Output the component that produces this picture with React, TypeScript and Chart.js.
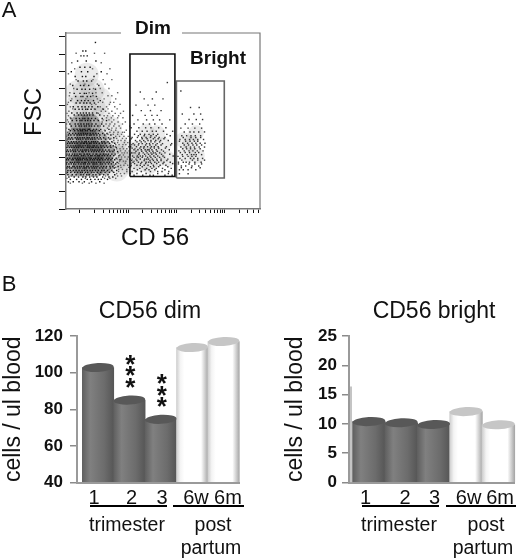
import React, { useEffect, useRef } from "react";
import { Chart, registerables } from "chart.js";

Chart.register(...registerables);

const FONT = "'Liberation Sans', Arial, sans-serif";

// Panel B values
const barCategories = ["1", "2", "3", "6w", "6m"];
const dimValues = [102.8, 85, 74.5, 113.7, 117];
const brightValues = [10.4, 10.2, 9.9, 12.1, 9.85];
const dimTickSpots = [0.87, 2.07, 3.04, 4.12, 5.14];
const brightTickSpots = [0.9, 2.12, 3.03, 4.08, 5.05];
const darkBars = [true, true, true, false, false];

// Panel A: gates, in (CD56 log decade, FSC channel)
const dimGate = [[1.035, 189], [1.035, 901], [1.967, 901], [1.967, 189], [1.035, 189]];
const brightGate = [[1.998, 180], [1.998, 744], [2.99, 744], [2.99, 180], [1.998, 180]];

// Panel A: shaded density under the dots
const coreDensity = [
  [-0.12, 250], [0.08, 250], [0.3, 250], [0.48, 260],
  [-0.14, 330], [0.06, 330], [0.28, 330], [0.5, 330],
  [-0.08, 410], [0.14, 410], [0.34, 400],
  [0.02, 490], [0.2, 490],
];
const haloDensity = [
  [0.1, 580], [0.28, 590], [-0.08, 590], [0.1, 680], [0.26, 690], [-0.05, 680],
  [0.42, 520], [0.62, 470], [0.72, 390], [0.78, 300], [0.76, 230],
  [0.14, 780], [-0.2, 470], [0.4, 640], [0.98, 330], [1.0, 270],
];
const gateDensity = [
  [1.32, 320], [1.52, 330], [1.42, 390], [1.62, 290], [1.28, 260], [1.2, 350],
  [1.72, 370], [1.45, 250], [1.38, 450], [1.6, 440], [1.82, 290],
  [2.3, 380], [2.22, 320], [2.4, 440], [2.14, 400], [2.42, 310],
];

// Panel A: events by FSC channel, x in hundredths of a decade
const coreRows: [number, number[]][] = [
  [158, [-24, -14, -2, 9, 24, 41]],
  [172, [-20, -7, 3, 15, 22, 38, 44, 57, 31]],
  [186, [-3, -23, 6, 47, 12, 60, 20, 68, 28, -12, 35]],
  [199, [33, -25, 2, 58, -16, 14, 41, 7, 72, -8, 49, 19, 27]],
  [213, [36, -19, 61, 1, 16, -26, 43, 5, 70, -11, 24, 52, -5, 29, 11]],
  [224, [9, -25, 45, 21, -14, 66, 32, -2, 57, 15, 76, -20, 38, 4, 50, -8, 26]],
  [238, [47, -27, 13, 63, -5, 30, -21, 6, 71, 41, -17, 19, 54, 0, 34, -10, 25, 10]],
  [247, [-22, 33, 55, 8, -6, 79, 23, -15, 44, 14, 68, -26, 37, 3, 62, -12, 28, 17, 49, -1]],
  [262, [2, 53, -18, 27, 74, -9, 42, 16, -28, 59, 7, 35, -23, 65, 20, -3, 46, 11, 31, -13]],
  [271, [61, -6, 24, 50, -27, 9, 39, 77, -16, 29, 4, 56, -20, 18, 69, 43, -2, 34, -11, 12]],
  [286, [15, -24, 41, 83, 1, 26, 64, -14, 52, 10, -28, 36, 72, -3, 21, 47, -7, 58, 30, 5, -17]],
  [295, [38, -10, 60, 13, -26, 23, 75, 0, 48, -21, 32, 8, 67, -5, 44, 19, -15, 55, 6, 28]],
  [310, [-18, 46, 7, 70, -29, 31, 17, 57, -4, 40, 25, 81, -12, 3, 51, -23, 37, 11, 63, -8, 22]],
  [319, [49, 2, -27, 33, 66, 14, -6, 42, 20, 73, -16, 59, 9, -22, 27, -11, 35, -1, 54, 16]],
  [334, [-13, 29, 78, 4, 50, -24, 18, 39, -2, 62, 12, -28, 45, 34, -9, 68, 6, 24, -19, 56]],
  [343, [22, -5, 53, 36, -20, 10, 71, 1, 47, -15, 26, 60, 13, -26, 31, -10, 41, 17, 5]],
  [358, [64, 3, -17, 38, 19, -27, 57, 8, 28, -7, 75, 44, -12, 15, 33, -22, 51, -3, 25]],
  [367, [30, -25, 48, 11, 69, -4, 21, -14, 35, 6, 63, -19, 43, 0, 55, 16, -9, 27]],
  [382, [-16, 40, 7, 72, 23, -6, 52, 14, -26, 34, 2, 61, -11, 29, 9, 46, -21, 20]],
  [391, [50, -2, 28, -18, 66, 13, 37, -8, 58, 4, 24, -24, 45, 10, 32, -13, 18]],
  [406, [1, -25, 39, 17, 62, -7, 26, 53, -15, 6, 44, -3, 31, 12, -20, 22]],
  [414, [36, -10, 70, 9, -23, 49, 19, -5, 59, 30, 0, 15, -17, 42, 25, 5]],
  [430, [-19, 23, 64, 3, 41, -12, 29, 14, 51, -6, 35, -24, 8, 20, -1]],
  [439, [47, -9, 16, 56, -22, 27, 7, 38, -15, 2, 33, 12, 21, -3]],
  [455, [-11, 31, 52, 5, -20, 40, 15, 26, -4, 22, 1, 11]],
  [463, [17, -23, 60, 6, 34, -13, 43, 28, -6, 10, 20, 0]],
  [482, [37, -9, 3, 49, 24, -18, 13, 30, -2, 19, 9]],
  [494, [-21, 45, 8, 25, -10, 33, 2, 18, -4, 14]],
  [514, [22, -16, 55, 0, 38, 11, -7, 29, 4, 16]],
  [526, [46, -19, 6, 24, -8, 32, 10, -1, 17]],
  [546, [-12, 27, 3, 41, 15, -3, 9, 20]],
  [558, [35, -17, 7, 26, -6, 13, 1, 19]],
  [580, [16, -10, 48, 5, 31, -2, 23, 12]],
  [594, [-14, 37, 4, 18, -4, 25, 11]],
  [616, [30, -8, 14, 0, 21, 8]],
  [630, [-19, 42, 3, 28, -5, 17, 10]],
  [654, [22, -9, 34, 6, 15, 2]],
  [672, [9, -12, 26, 0, 13]],
  [696, [32, -6, 20, 4, 11]],
  [718, [1, -15, 39, 18, 8]],
  [744, [24, -4, 14, 7]],
  [770, [-10, 29, 5, 12]],
  [798, [44, -18, 16, 3]],
  [824, [10, 21, 0]],
  [860, [33, -5, 13]],
  [890, [8, 15, 2]],
  [918, [12, 6]],
  [968, [32]],
];

const hazeRows: [number, number[]][] = [
  [150, [5, -20, 33, 19, 50]],
  [178, [62, -27, 74, 11, 51]],
  [192, [78, 25, -18, 53, 86]],
  [206, [84, -28, 76, 39, 92, 9]],
  [218, [68, 97, -17, 80, 23, 55]],
  [230, [88, 12, 80, -30, 97, 60, 36]],
  [242, [74, 101, -24, 85, 44, 5]],
  [254, [84, 91, 17, -30, 99, 39, 71]],
  [266, [106, 80, -9, 94, 51, 22]],
  [278, [82, 33, 90, -30, 112, 95, 66, 8]],
  [290, [98, 77, 18, 86, 108, -19, 49]],
  [302, [80, 86, -31, 93, 118, 100, 28]],
  [314, [104, 72, 90, 12, 83, -25]],
  [326, [79, 110, 87, 41, 92, -31, 98]],
  [338, [94, 66, 84, 102, 20, -18]],
  [350, [76, 114, 83, 90, -30, 97, 35]],
  [362, [101, 60, 88, 73, 10]],
  [374, [74, 81, 107, -28, 89, 95, 22]],
  [386, [68, 92, 56, 78, 99]],
  [398, [70, 79, -27, 104, 85, 93, 3]],
  [410, [64, 88, 76, 52, 96]],
  [422, [74, 82, -28, 91, 40, 100]],
  [434, [58, 69, 86, 18, 78]],
  [446, [62, 92, 70, -26, 79, 88]],
  [458, [51, 74, 65, 96, 30]],
  [470, [57, 66, -28, 75, 84, 10]],
  [482, [60, 42, 81, 70, 103]],
  [494, [-28, 54, 62, 72, 88, 20]],
  [506, [66, 46, -24, 79, 94]],
  [518, [-26, 48, 60, 70, 36]],
  [530, [78, 55, 89, -20, 65]],
  [542, [-24, 50, 57, 68, 80, 6]],
  [556, [38, 73, -27, 60, 84]],
  [568, [-23, 44, 53, 66, 90]],
  [582, [77, 30, -15, 58, 47]],
  [594, [-20, 42, 55, 72, 10]],
  [608, [61, -26, 33, 83, 24]],
  [620, [-24, 38, 47, 63, 70]],
  [640, [-17, 36, 50, 74, 12]],
  [658, [58, -22, 27, 66]],
  [676, [-21, 33, 46, 19, 78]],
  [700, [-13, 28, 42, 60]],
  [726, [36, -20, 52, 10]],
  [752, [48, -8, 27, 66]],
  [786, [-24, 35, 56]],
  [815, [26, -11, 62]],
  [850, [44, -17]],
  [905, [30, -8, 51]],
];

const dimRows: [number, number[]][] = [
  [196, [130, 152, 176, 191, 112, 145]],
  [206, [161, 118, 137, 183, 104]],
  [218, [108, 127, 146, 161, 184, 170]],
  [228, [135, 155, 119, 176, 143]],
  [236, [112, 124, 138, 149, 158, 171, 189]],
  [246, [129, 163, 105, 146, 182, 153]],
  [254, [106, 118, 133, 141, 152, 166, 178, 125]],
  [264, [148, 113, 159, 136, 172, 192, 126]],
  [272, [110, 121, 128, 137, 146, 155, 163, 174, 187, 142]],
  [282, [133, 152, 118, 168, 107, 145, 160, 180]],
  [290, [104, 116, 125, 134, 142, 150, 159, 168, 182, 138]],
  [300, [147, 121, 165, 129, 156, 112, 175, 140]],
  [308, [109, 119, 130, 136, 145, 153, 161, 172, 193, 125]],
  [318, [149, 134, 158, 104, 142, 169, 122, 186]],
  [326, [107, 114, 123, 131, 139, 147, 156, 165, 176, 152]],
  [336, [128, 144, 160, 116, 137, 173, 151]],
  [344, [112, 120, 127, 135, 143, 149, 158, 169, 185, 140]],
  [354, [146, 124, 163, 132, 154, 108, 177]],
  [362, [105, 117, 126, 133, 140, 148, 154, 162, 179]],
  [372, [136, 157, 121, 145, 168, 113, 188]],
  [380, [110, 122, 129, 138, 144, 151, 160, 171, 190]],
  [390, [147, 127, 165, 135, 118, 155]],
  [398, [115, 124, 132, 141, 147, 157, 167, 183]],
  [408, [139, 152, 106, 129, 174, 162]],
  [416, [108, 119, 128, 137, 146, 155, 164, 176]],
  [426, [133, 158, 121, 147, 187]],
  [434, [113, 125, 134, 143, 152, 161, 180]],
  [452, [118, 129, 139, 150, 158, 173, 192]],
  [472, [106, 122, 136, 147, 163, 178]],
  [494, [112, 131, 144, 155, 170]],
  [518, [120, 138, 152, 165, 186]],
  [544, [109, 135, 149, 160]],
  [572, [127, 146, 168]],
  [604, [116, 141, 155]],
  [640, [133, 150, 172]],
  [680, [125, 158]],
  [735, [181]],
];

const brightRowsData: [number, number[]][] = [
  [205, [206, 224]],
  [228, [206, 224, 240, 214]],
  [240, [231, 210, 249]],
  [250, [210, 219, 232, 246]],
  [262, [226, 238, 204, 252]],
  [272, [204, 214, 227, 238, 251, 220]],
  [284, [233, 211, 244, 258]],
  [294, [207, 218, 229, 236, 244, 254]],
  [306, [224, 240, 213, 232, 203]],
  [316, [212, 222, 231, 241, 252, 236]],
  [328, [218, 246, 227, 208, 239]],
  [338, [205, 216, 226, 234, 243, 255]],
  [350, [229, 238, 213, 249, 221]],
  [360, [209, 220, 229, 237, 247, 258]],
  [372, [234, 225, 242, 216, 252]],
  [382, [213, 223, 232, 240, 249, 259]],
  [394, [228, 237, 206, 244, 219]],
  [404, [207, 218, 227, 235, 244, 256]],
  [416, [230, 240, 214, 250]],
  [426, [211, 221, 230, 239, 250]],
  [448, [216, 228, 236, 246, 258]],
  [470, [209, 224, 238, 252]],
  [494, [218, 233, 248]],
  [520, [226, 241, 254]],
  [552, [212, 236, 250]],
  [590, [229, 247]],
  [686, [209]],
];

const fsdTicks = [0, 100, 200, 300, 400, 500, 600, 700, 800, 900, 1000];
const cdDecades = [0, 1, 2, 3];
const cdMinors = [1, 2, 3, 4, 5, 6, 7, 8, 9];

const rowsToPoints = (rows: [number, number[]][]) =>
  rows.flatMap(([y, xs]) => xs.map((x) => ({ x: x / 100, y })));

type Label = { text: string; x: number; y: number; font: string; rot?: number };

const textPlugin = (labels: Label[], rules: number[][]) => ({
  id: "pageText",
  afterDraw(chart: any) {
    const c = chart.ctx;
    c.save();
    c.fillStyle = "#111";
    c.textAlign = "center";
    c.textBaseline = "middle";
    for (const l of labels) {
      c.save();
      c.translate(l.x, l.y);
      if (l.rot) c.rotate(l.rot);
      c.font = l.font;
      c.fillText(l.text, 0, 0);
      c.restore();
    }
    c.strokeStyle = "#000";
    c.lineWidth = 2;
    for (const [x1, x2, y] of rules) {
      c.beginPath();
      c.moveTo(x1, y);
      c.lineTo(x2, y);
      c.stroke();
    }
    c.restore();
  },
});

const cylinderTops = {
  id: "cylinderTops",
  afterDatasetsDraw(chart: any) {
    const c = chart.ctx;
    const meta = chart.getDatasetMeta(0);
    meta.data.forEach((bar: any, i: number) => {
      c.save();
      c.fillStyle = darkBars[i] ? "#585858" : "#c6c6c6";
      c.beginPath();
      c.ellipse(bar.x, bar.y, bar.width / 2, 4.5, -0.05, 0, Math.PI * 2);
      c.fill();
      c.restore();
    });
  },
};

const barFill = (ctx: any) => {
  const i = ctx.dataIndex ?? 0;
  const xs = ctx.chart.scales.x;
  if (!xs) return "#777";
  const u = xs.getPixelForValue(2) - xs.getPixelForValue(1);
  const cx = xs.getPixelForValue(i + 1);
  if (!Number.isFinite(u) || !Number.isFinite(cx)) return "#777";
  const g = ctx.chart.ctx.createLinearGradient(cx - u / 2, 0, cx + u / 2, 0);
  if (darkBars[i]) {
    g.addColorStop(0, "#606060");
    g.addColorStop(0.25, "#808080");
    g.addColorStop(0.7, "#6c6c6c");
    g.addColorStop(1, "#565656");
  } else {
    g.addColorStop(0, "#cfcfcf");
    g.addColorStop(0.12, "#f4f4f4");
    g.addColorStop(0.25, "#ffffff");
    g.addColorStop(0.78, "#ffffff");
    g.addColorStop(0.9, "#d0d0d0");
    g.addColorStop(1, "#a8a8a8");
  }
  return g;
};

function barConfig(o: {
  values: number[];
  spots: number[];
  yMin: number;
  yMax: number;
  step: number;
  xMin: number;
  xMax: number;
  barWidth: number;
  padding: any;
  yWidth: number;
  bottomGap: number;
  tickPad: number;
  titlePad: number;
  plugins: any[];
}) {
  return {
    type: "bar",
    data: {
      labels: barCategories,
      datasets: [
        {
          data: o.values.map((v, i) => ({ x: i + 1, y: v })),
          backgroundColor: barFill,
          borderWidth: 0,
          barThickness: o.barWidth,
          base: o.yMin,
          clip: false,
        },
      ],
    },
    options: {
      responsive: false,
      animation: false,
      layout: { padding: o.padding },
      plugins: { legend: { display: false }, tooltip: { enabled: false } },
      scales: {
        x: {
          type: "linear",
          offset: false,
          min: o.xMin,
          max: o.xMax,
          afterBuildTicks: (s: any) => {
            s.ticks = o.spots.map((value) => ({ value }));
          },
          afterFit: (s: any) => {
            s.height = o.bottomGap;
          },
          grid: { display: false, drawTicks: false },
          border: { color: "#9a9a9a", width: 2 },
          ticks: {
            autoSkip: false,
            maxRotation: 0,
            padding: 4,
            color: "#111",
            font: { family: FONT, size: 20 },
            callback: (_v: any, i: number) => barCategories[i],
          },
        },
        y: {
          min: o.yMin,
          max: o.yMax,
          afterFit: (s: any) => {
            s.width = o.yWidth;
          },
          grid: { drawOnChartArea: false, tickLength: 7, tickColor: "#8a8a8a", lineWidth: 1.5 },
          border: { color: "#9a9a9a", width: 2 },
          ticks: {
            stepSize: o.step,
            padding: o.tickPad,
            color: "#111",
            font: { family: FONT, size: 17, weight: "bold" },
          },
          title: {
            display: true,
            text: "cells / ul blood",
            color: "#111",
            font: { family: FONT, size: 23 },
            padding: { top: o.titlePad, bottom: 0 },
          },
        },
      },
    },
    plugins: [cylinderTops, ...o.plugins],
  };
}

const rect = (data: any[], color: string) => ({
  data,
  showLine: false,
  pointStyle: "rect",
  pointRadius: 1,
  backgroundColor: color,
  borderWidth: 0,
  order: 2,
});

const blob = (data: number[][], radius: number, color: string) => ({
  data: data.map(([x, y]) => ({ x, y })),
  showLine: false,
  pointStyle: "circle",
  pointRadius: radius,
  backgroundColor: color,
  borderWidth: 0,
  order: 3,
});

const gate = (data: number[][], color: string) => ({
  data: data.map(([x, y]) => ({ x, y })),
  showLine: true,
  pointRadius: 0,
  borderColor: color,
  borderWidth: 1.6,
  fill: false,
  tension: 0,
  order: 1,
});

const scatterConfig: any = {
  type: "scatter",
  data: {
    datasets: [
      blob(coreDensity, 11, "rgba(40,40,40,0.32)"),
      blob(haloDensity, 12, "rgba(110,110,110,0.14)"),
      blob(gateDensity, 8, "rgba(110,110,110,0.14)"),
      rect(rowsToPoints(hazeRows), "#666"),
      rect(rowsToPoints(coreRows), "#151515"),
      rect(rowsToPoints(dimRows), "#333"),
      rect(rowsToPoints(brightRowsData), "#333"),
      gate(dimGate, "#111"),
      gate(brightGate, "#666"),
    ],
  },
  options: {
    responsive: false,
    animation: false,
    layout: { padding: { top: 33, right: 258, left: 0, bottom: 0 } },
    plugins: { legend: { display: false }, tooltip: { enabled: false } },
    scales: {
      x: {
        type: "linear",
        min: -0.29,
        max: 3.73,
        afterBuildTicks: (s: any) => {
          s.ticks = cdDecades
            .flatMap((d) => cdMinors.map((m) => ({ value: d + Math.log10(m) })))
            .filter((t) => t.value <= 3.73);
        },
        afterFit: (s: any) => {
          s.height = 351;
        },
        grid: { drawOnChartArea: false, tickLength: 4, tickColor: "#111" },
        border: { color: "#777", width: 1.5 },
        ticks: { display: false },
      },
      y: {
        min: 0,
        max: 1023,
        afterBuildTicks: (s: any) => {
          s.ticks = fsdTicks.map((value) => ({ value }));
        },
        afterFit: (s: any) => {
          s.width = 66;
        },
        grid: { drawOnChartArea: false, tickLength: 7, tickColor: "#111" },
        border: { color: "#777", width: 1.5 },
        ticks: { display: false },
      },
    },
  },
  plugins: [
    {
      id: "frame",
      afterDraw(chart: any) {
        const c = chart.ctx;
        const a = chart.chartArea;
        c.save();
        c.strokeStyle = "#777";
        c.lineWidth = 1.2;
        c.beginPath();
        c.moveTo(a.left, a.top);
        c.lineTo(121, a.top);
        c.moveTo(182, a.top);
        c.lineTo(a.right, a.top);
        c.lineTo(a.right, a.bottom);
        c.stroke();
        c.restore();
      },
    },
    textPlugin(
      [
        { text: "A", x: 9, y: 11, font: `22px ${FONT}` },
        { text: "Dim", x: 153, y: 29, font: `bold 19px ${FONT}` },
        { text: "Bright", x: 218, y: 59, font: `bold 19px ${FONT}` },
        { text: "FSC", x: 34, y: 112, font: `24px ${FONT}`, rot: -Math.PI / 2 },
        { text: "CD 56", x: 155, y: 238, font: `24px ${FONT}` },
        { text: "B", x: 9, y: 285, font: `22px ${FONT}` },
      ],
      []
    ),
  ],
};

const asterisks = (chart: any, idx: number, centers: number[]) => {
  const c = chart.ctx;
  const bar = chart.getDatasetMeta(0).data[idx];
  c.save();
  c.fillStyle = "#111";
  c.font = `bold 26px ${FONT}`;
  c.textAlign = "center";
  c.textBaseline = "alphabetic";
  for (const y of centers) c.fillText("*", bar.x + 1, y + 11);
  c.restore();
};

const dimConfig: any = barConfig({
  values: dimValues,
  spots: dimTickSpots,
  yMin: 40,
  yMax: 120,
  step: 20,
  xMin: 0.33,
  xMax: 5.49,
  barWidth: 31.4,
  padding: { top: 336, right: 279, left: 0, bottom: 0 },
  yWidth: 77,
  bottomGap: 77.5,
  tickPad: 7,
  titlePad: 0,
  plugins: [
    {
      id: "stars",
      afterDraw(chart: any) {
        asterisks(chart, 1, [361.7, 373.3, 385]);
        asterisks(chart, 2, [381, 392.7, 404]);
      },
    },
    textPlugin(
      [
        { text: "CD56 dim", x: 150, y: 312, font: `23px ${FONT}` },
        { text: "trimester", x: 127, y: 526, font: `19.5px ${FONT}` },
        { text: "post", x: 213, y: 526, font: `19.5px ${FONT}` },
        { text: "partum", x: 211, y: 549, font: `19.5px ${FONT}` },
      ],
      [
        [90, 167, 506],
        [173, 244, 506],
      ]
    ),
  ],
});

const brightConfig: any = barConfig({
  values: brightValues,
  spots: brightTickSpots,
  yMin: 0,
  yMax: 25,
  step: 5,
  xMin: 0.385,
  xMax: 5.5,
  barWidth: 32.7,
  padding: { top: 336, right: 1, left: 270, bottom: 0 },
  yWidth: 79,
  bottomGap: 77.5,
  tickPad: 5,
  titlePad: 12,
  plugins: [
    {
      id: "axisShade",
      afterDraw(chart: any) {
        const y = chart.scales.y;
        const c = chart.ctx;
        c.save();
        c.strokeStyle = "#b0b0b0";
        c.lineWidth = 1.5;
        c.beginPath();
        c.moveTo(351, y.getPixelForValue(16.4));
        c.lineTo(351, y.getPixelForValue(0));
        c.stroke();
        c.restore();
      },
    },
    textPlugin(
      [
        { text: "CD56 bright", x: 434, y: 312, font: `23px ${FONT}` },
        { text: "trimester", x: 399, y: 526, font: `19.5px ${FONT}` },
        { text: "post", x: 486, y: 526, font: `19.5px ${FONT}` },
        { text: "partum", x: 483, y: 549, font: `19.5px ${FONT}` },
      ],
      [
        [362, 439, 506],
        [446, 516, 506],
      ]
    ),
  ],
});

const layer: React.CSSProperties = { position: "absolute", left: 0, top: 0 };

export default function App() {
  const a = useRef<HTMLCanvasElement>(null);
  const b = useRef<HTMLCanvasElement>(null);
  const d = useRef<HTMLCanvasElement>(null);
  useEffect(() => {
    const charts = [
      new Chart(a.current as any, scatterConfig),
      new Chart(b.current as any, dimConfig),
      new Chart(d.current as any, brightConfig),
    ];
    return () => charts.forEach((c) => c.destroy());
  }, []);
  return (
    <div style={{ position: "absolute", left: 0, top: 0, width: 518, height: 560, background: "#fff", overflow: "hidden" }}>
      <canvas ref={a} width={518} height={560} style={layer} />
      <canvas ref={b} width={518} height={560} style={layer} />
      <canvas ref={d} width={518} height={560} style={layer} />
    </div>
  );
}
